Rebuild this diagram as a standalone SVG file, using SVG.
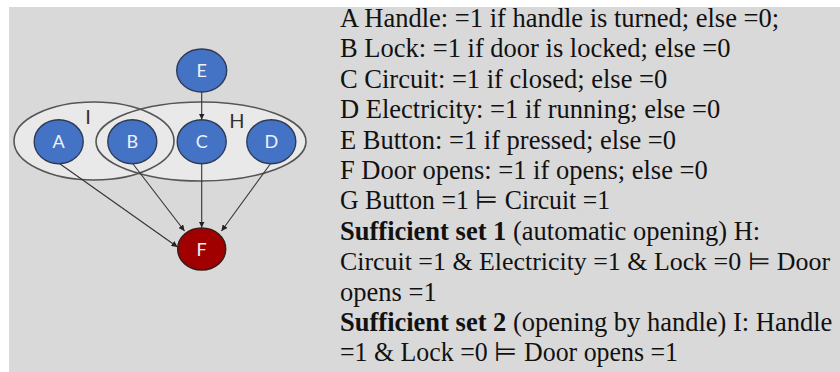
<svg xmlns="http://www.w3.org/2000/svg" width="840" height="372" viewBox="0 0 840 372">
  <style>
    .set { fill: #e9e9e9; stroke: none; }
    .setline { fill: none; stroke: #555555; stroke-width: 1.6; }
    .node { fill: #4472c4; stroke: #2f3b55; stroke-width: 1.4; }
    .sink { fill: #a00000; stroke: #3a1a1a; stroke-width: 1.4; }
    .nlabel { font-family: Lato, "Open Sans", sans-serif; font-size: 18px; fill: #eef2fa; text-anchor: middle; }
    .slabel { font-family: Lato, "Open Sans", sans-serif; font-size: 20px; fill: #333333; text-anchor: middle; }
    .edge { fill: none; stroke: #333333; stroke-width: 1.1; marker-end: url(#arrow); }
    .txt { font-family: "Liberation Serif", "Times New Roman", serif; font-size: 26.5px; fill: #111111; }
    .tight { font-size: 25px; }
    .b { font-weight: bold; }
  </style>
  <defs>
    <marker id="arrow" viewBox="0 0 10 10" refX="10" refY="5" markerWidth="6" markerHeight="6" orient="auto" markerUnits="userSpaceOnUse">
      <path d="M0,0 L10,5 L0,10 z" fill="#222222"/>
    </marker>
  </defs>

  <!-- panel background -->
  <rect x="9" y="7" width="831" height="365" fill="#d9d9d9"/>

  <!-- sufficient sets -->
  <g id="sets">
    <ellipse class="set" cx="94" cy="141" rx="80" ry="39"/>
    <ellipse class="set" cx="201" cy="141.5" rx="105" ry="39.5"/>
    <ellipse class="setline" cx="94" cy="141" rx="80" ry="39"/>
    <ellipse class="setline" cx="201" cy="141.5" rx="105" ry="39.5"/>
    <text class="slabel" x="88" y="124">I</text>
    <text class="slabel" x="237" y="128">H</text>
  </g>

  <!-- connectors -->
  <g id="edges">
    <line class="edge" x1="201.7" y1="92" x2="201.7" y2="119.5"/>
    <line class="edge" x1="58.7" y1="163" x2="177.5" y2="247"/>
    <line class="edge" x1="132.3" y1="163" x2="184.5" y2="231"/>
    <line class="edge" x1="201.7" y1="163.5" x2="201.7" y2="227.5"/>
    <line class="edge" x1="271" y1="163" x2="221.5" y2="231"/>
  </g>

  <g id="node-E">
    <ellipse class="node" cx="201.7" cy="70.5" rx="25" ry="21.5"/>
    <text class="nlabel" x="201.7" y="77">E</text>
  </g>
  <g id="node-A">
    <ellipse class="node" cx="58.7" cy="141.7" rx="24.5" ry="22"/>
    <text class="nlabel" x="58.7" y="148">A</text>
  </g>
  <g id="node-B">
    <ellipse class="node" cx="132.3" cy="141.7" rx="24.5" ry="22"/>
    <text class="nlabel" x="132.3" y="148">B</text>
  </g>
  <g id="node-C">
    <ellipse class="node" cx="201.7" cy="141.7" rx="24.5" ry="22"/>
    <text class="nlabel" x="201.7" y="148">C</text>
  </g>
  <g id="node-D">
    <ellipse class="node" cx="271.3" cy="141.7" rx="24.5" ry="22"/>
    <text class="nlabel" x="271.3" y="148">D</text>
  </g>
  <g id="node-F">
    <ellipse class="sink" cx="201.7" cy="249" rx="24" ry="21"/>
    <text class="nlabel" x="201.7" y="255.5">F</text>
  </g>

  <!-- variable definitions -->
  <g id="legend">
    <text class="txt" x="340" y="27">A Handle: =1 if handle is turned; else =0;</text>
    <text class="txt" x="340" y="57.4">B Lock: =1 if door is locked; else =0</text>
    <text class="txt" x="340" y="87.8">C Circuit: =1 if closed; else =0</text>
    <text class="txt" x="340" y="118.2">D Electricity: =1 if running; else =0</text>
    <text class="txt" x="340" y="148.6">E Button: =1 if pressed; else =0</text>
    <text class="txt" x="340" y="179">F Door opens: =1 if opens; else =0</text>
    <text class="txt" x="340" y="209.4" textLength="270" lengthAdjust="spacingAndGlyphs">G Button =1 ⊨ Circuit =1</text>
    <text class="txt" x="340" y="239.8"><tspan class="b">Sufficient set 1</tspan> (automatic opening) H:</text>
    <text class="txt tight" x="340" y="270.2" textLength="490" lengthAdjust="spacingAndGlyphs">Circuit =1 &amp; Electricity =1 &amp; Lock =0 ⊨ Door</text>
    <text class="txt" x="340" y="300.6">opens =1</text>
    <text class="txt" x="340" y="331"><tspan class="b">Sufficient set 2</tspan> (opening by handle) I: Handle</text>
    <text class="txt" x="340" y="361.4" textLength="338" lengthAdjust="spacingAndGlyphs">=1 &amp; Lock =0 ⊨ Door opens =1</text>
  </g>
</svg>
